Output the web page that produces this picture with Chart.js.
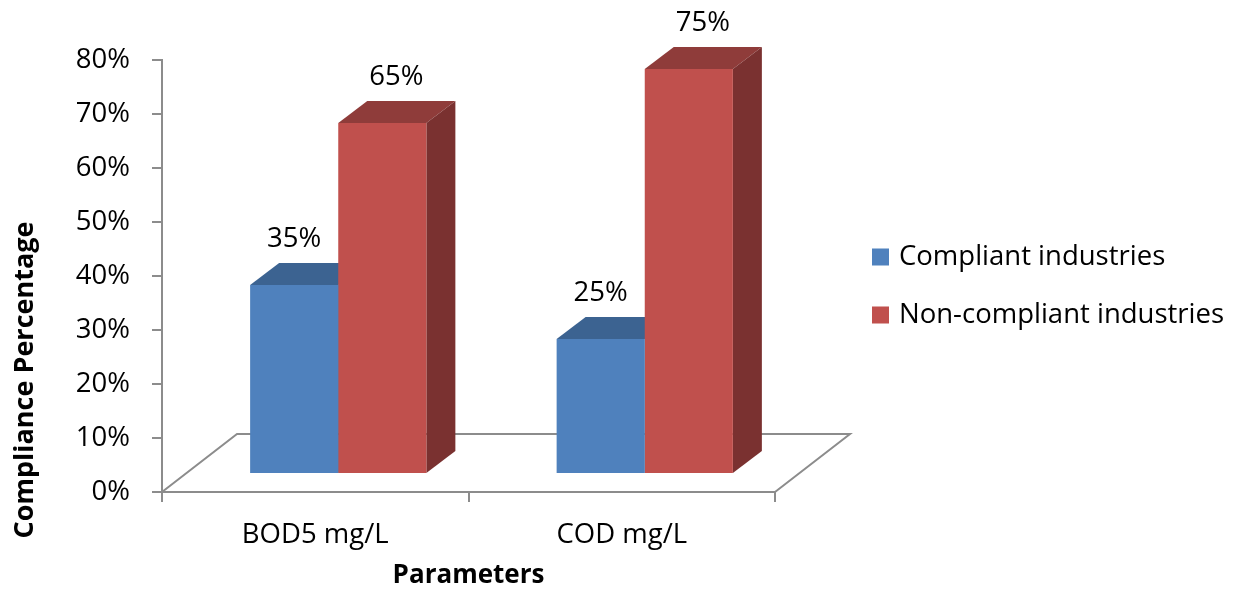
<!DOCTYPE html>
<html>
<head>
<meta charset="utf-8">
<script src="https://cdn.jsdelivr.net/npm/chart.js@4.4.1/dist/chart.umd.min.js"></script>
<style>
  html, body { margin: 0; padding: 0; background: #ffffff; }
  #wrap { width: 1240px; height: 589px; }
</style>
</head>
<body>
<div id="wrap"><canvas id="chart" width="1240" height="589"></canvas></div>
<script>
// Data
const categories = ['BOD5 mg/L', 'COD mg/L'];
const seriesNames = ['Compliant industries', 'Non-compliant industries'];
const compliant = [35, 25];
const nonCompliant = [65, 75];
const yTickValues = [0, 10, 20, 30, 40, 50, 60, 70, 80];

// Styling
const FONT = "'Open Sans', Lato, sans-serif";
const FONT_SIZE = 27.5;
const AXIS_GREY = '#8c8c8c';
const FRONT = ['#4F81BD', '#C0504D'];
const TOP = ['#3C6391', '#8F3C3A'];
const SIDE = ['#2F4F75', '#7A3130'];

// Oblique projection used for the 3D look
const FLOOR_DEPTH = { x: 75, y: -58 };   // full depth of the floor
const BAR_SHIFT = { x: 23, y: -18 };     // bars sit mid-depth on the floor
const BAR_DEPTH = { x: 29, y: -22 };     // thickness of each bar

function poly(ctx, pts, fill) {
  ctx.beginPath();
  ctx.moveTo(pts[0][0], pts[0][1]);
  for (let i = 1; i < pts.length; i++) ctx.lineTo(pts[i][0], pts[i][1]);
  ctx.closePath();
  ctx.fillStyle = fill;
  ctx.fill();
}

const bar3d = {
  id: 'bar3d',
  beforeDatasetsDraw(chart) {
    const { ctx, chartArea: a } = chart;
    // floor outline
    ctx.save();
    ctx.strokeStyle = AXIS_GREY;
    ctx.lineWidth = 2;
    ctx.beginPath();
    ctx.moveTo(a.left, a.bottom);
    ctx.lineTo(a.left + FLOOR_DEPTH.x, a.bottom + FLOOR_DEPTH.y);
    ctx.lineTo(a.right + FLOOR_DEPTH.x, a.bottom + FLOOR_DEPTH.y);
    ctx.lineTo(a.right, a.bottom);
    ctx.stroke();
    ctx.restore();

    // shift the bar plane back into the floor; the library draws the front faces there
    ctx.save();
    ctx.translate(BAR_SHIFT.x, BAR_SHIFT.y);
    chart.data.datasets.forEach((ds, di) => {
      const meta = chart.getDatasetMeta(di);
      meta.data.forEach(el => {
        const { x, y, base, width } = el.getProps(['x', 'y', 'base', 'width'], true);
        const l = x - width / 2, r = x + width / 2;
        const dx = BAR_DEPTH.x, dy = BAR_DEPTH.y;
        poly(ctx, [[l, y], [r, y], [r + dx, y + dy], [l + dx, y + dy]], TOP[di]);
        poly(ctx, [[r, y], [r + dx, y + dy], [r + dx, base + dy], [r, base]], SIDE[di]);
      });
    });
  },
  afterDatasetsDraw(chart) {
    const { ctx } = chart;
    ctx.restore();
    // value labels above each bar
    ctx.save();
    ctx.font = `${FONT_SIZE}px ${FONT}`;
    ctx.fillStyle = '#000000';
    ctx.textAlign = 'center';
    ctx.textBaseline = 'middle';
    chart.data.datasets.forEach((ds, di) => {
      const meta = chart.getDatasetMeta(di);
      meta.data.forEach((el, i) => {
        const { x, y } = el.getProps(['x', 'y'], true);
        const lx = x + BAR_SHIFT.x + (di === 1 ? 14 : 0);
        const ly = y + BAR_SHIFT.y + BAR_DEPTH.y - 24;
        ctx.fillText(ds.data[i] + '%', lx, ly);
      });
    });
    ctx.restore();
  },
  afterDraw(chart) {
    const { ctx } = chart;
    ctx.save();
    // vertical axis title
    ctx.font = `bold 27px ${FONT}`;
    ctx.fillStyle = '#000000';
    ctx.textAlign = 'center';
    ctx.textBaseline = 'middle';
    ctx.translate(25, 380);
    ctx.rotate(-Math.PI / 2);
    ctx.fillText('Compliance Percentage', 0, 0);
    ctx.restore();

    // legend
    ctx.save();
    ctx.font = `${FONT_SIZE}px ${FONT}`;
    ctx.textAlign = 'left';
    ctx.textBaseline = 'middle';
    const rows = [257, 315];
    seriesNames.forEach((name, i) => {
      ctx.fillStyle = FRONT[i];
      ctx.fillRect(872, rows[i] - 8.5, 17, 17);
      ctx.fillStyle = '#000000';
      ctx.fillText(name, 899, rows[i]);
    });
    ctx.restore();
  }
};

new Chart(document.getElementById('chart'), {
  type: 'bar',
  data: {
    labels: categories,
    datasets: [
      { label: seriesNames[0], data: compliant, backgroundColor: FRONT[0], clip: false },
      { label: seriesNames[1], data: nonCompliant, backgroundColor: FRONT[1], clip: false }
    ]
  },
  options: {
    responsive: false,
    animation: false,
    layout: { padding: { left: 0, right: 465, top: 60, bottom: 0 } },
    datasets: { bar: { categoryPercentage: 0.575, barPercentage: 1.0 } },
    plugins: { legend: { display: false }, tooltip: { enabled: false } },
    scales: {
      x: {
        offset: true,
        grid: { offset: true, drawOnChartArea: false, tickLength: 10, color: AXIS_GREY, lineWidth: 2 },
        border: { color: AXIS_GREY, width: 2 },
        ticks: { color: '#000000', padding: 17, font: { family: FONT, size: FONT_SIZE } },
        title: { display: true, text: 'Parameters', color: '#000000', padding: 0,
                 font: { family: FONT, size: 26, weight: 'bold', lineHeight: 1.0 } },
        afterFit(scale) { scale.height = 97; }
      },
      y: {
        min: 0,
        max: 80,
        afterBuildTicks(scale) { scale.ticks = yTickValues.map(v => ({ value: v })); },
        grid: { drawOnChartArea: false, tickLength: 10, color: AXIS_GREY, lineWidth: 2 },
        border: { color: AXIS_GREY, width: 2 },
        ticks: { color: '#000000', padding: 22, callback: v => v + '%',
                 font: { family: FONT, size: FONT_SIZE } },
        afterFit(scale) { scale.width = 162; }
      }
    }
  },
  plugins: [bar3d]
});
</script>
</body>
</html>
